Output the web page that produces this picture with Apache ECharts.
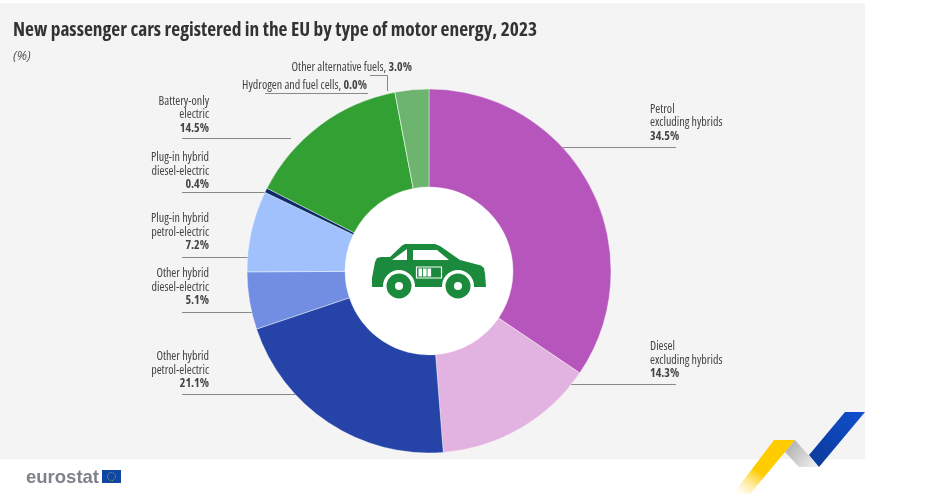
<!DOCTYPE html>
<html>
<head>
<meta charset="utf-8">
<style>html,body{margin:0;padding:0;background:#fff}#main{width:950px;height:497px}</style>
<script src="https://cdn.jsdelivr.net/npm/echarts@6/dist/echarts.min.js"></script>
</head>
<body>
<div id="main"></div>
<script>
var categories = ['Petrol\nexcluding hybrids', 'Diesel\nexcluding hybrids', 'Other hybrid\npetrol-electric',
    'Other hybrid\ndiesel-electric', 'Plug-in hybrid\npetrol-electric', 'Plug-in hybrid\ndiesel-electric',
    'Battery-only\nelectric', 'Hydrogen and fuel cells', 'Other alternative fuels'];
var shares = [34.5, 14.3, 21.1, 5.1, 7.2, 0.4, 14.5, 0.0, 3.0];
var colors = ['#b656bc', '#e2b2e0', '#2644a7', '#718ee2', '#a0c1fb', '#0e2a6d', '#33a033', '#33a033', '#6db56f'];

// label anchor and leader line for each slice
var labelPos = [[650, 102.5], [650, 340], [209, 350], [209, 267], [209, 212], [209, 151], [209, 94.5], [367, 79], [412, 61]];
var leaders = [
    [[676, 147.5], [561, 147.5]], [[676, 384.5], [561, 384.5]], [[182, 394.5], [296, 394.5]], [[182, 312.5], [252, 312.5]],
    [[182, 257.5], [248, 257.5]], [[182, 192.5], [266, 192.5]], [[182, 138.5], [291, 138.5]], [[265, 93.5], [368, 93.5]],
    [[370, 75.5], [387.5, 75.5], [387.5, 91]]
];

var font = '"Open Sans", sans-serif';
var chart = echarts.init(document.getElementById('main'));

var carBody = [[372, 287], [372, 278], [375, 262], [377, 258], [381, 257], [390, 257], [402, 245.5], [405, 244], [435, 244], [440, 246],
    [460, 260], [481, 265.5], [484, 268], [485, 274], [486, 287]];

var option = {
    animation: false,
    backgroundColor: '#fff',
    title: [
        {text: 'New passenger cars registered in the EU by type of motor energy, 2023', left: 13, top: 21, padding: 0,
            textStyle: {fontFamily: font, fontSize: 19.4, fontStyle: 'condensed', fontWeight: 'bold', color: '#333'}},
        {text: '(%)', left: 13, top: 50, padding: 0, textStyle: {fontFamily: font, fontSize: 13, fontStyle: 'italic', fontWeight: 'normal', color: '#555'}}
    ],
    series: [{
        type: 'pie',
        center: [429, 271],
        radius: [84, 182],
        startAngle: 90,
        clockwise: true,
        silent: true,
        z: 3,
        itemStyle: {borderColor: '#fff', borderWidth: 0.4},
        label: {
            show: true,
            position: 'outside',
            fontFamily: font,
            fontSize: 12,
            fontStyle: 'condensed',
            lineHeight: 13.5,
            color: '#444',
            formatter: function (p) {
                var sep = p.name.indexOf('\n') > -1 ? '\n' : ', ';
                return p.name + sep + '{b|' + p.value.toFixed(1) + '%}';
            },
            rich: {b: {fontFamily: font, fontSize: 12, fontStyle: 'condensed', fontWeight: 'bold', lineHeight: 13.5, color: '#444'}}
        },
        labelLine: {show: true, lineStyle: {color: '#888', width: 1}},
        labelLayout: function (p) {
            var i = p.dataIndex;
            return {
                x: labelPos[i][0],
                y: labelPos[i][1],
                align: i < 2 ? 'left' : 'right',
                verticalAlign: 'top',
                labelLinePoints: leaders[i]
            };
        },
        data: categories.map(function (name, i) {
            return {name: name, value: shares[i], itemStyle: {color: colors[i]}};
        })
    }],
    graphic: [
        {type: 'rect', z: -1, shape: {x: 0, y: 3, width: 865, height: 456}, style: {fill: '#f4f4f4'}},
        {type: 'circle', z: 1, shape: {cx: 429, cy: 271, r: 85}, style: {fill: '#fff'}},
        // car icon
        {type: 'polygon', z: 10, shape: {points: carBody}, style: {fill: '#1c8a3c'}},
        {type: 'polygon', z: 11, shape: {points: [[392, 260], [407, 249], [407, 260]]}, style: {fill: '#fff'}},
        {type: 'polygon', z: 11, shape: {points: [[413, 250], [437, 250], [449, 260], [413, 260]]}, style: {fill: '#fff'}},
        {type: 'rect', z: 11, shape: {x: 416.5, y: 267, width: 25, height: 11}, style: {fill: 'none', stroke: '#fff', lineWidth: 1.2}},
        {type: 'rect', z: 11, shape: {x: 418.5, y: 268.5, width: 3.6, height: 8}, style: {fill: '#fff'}},
        {type: 'rect', z: 11, shape: {x: 423, y: 268.5, width: 3.6, height: 8}, style: {fill: '#fff'}},
        {type: 'rect', z: 11, shape: {x: 427.5, y: 268.5, width: 3.6, height: 8}, style: {fill: '#fff'}},
        {type: 'circle', z: 11, shape: {cx: 399, cy: 286, r: 16}, style: {fill: '#fff'}},
        {type: 'circle', z: 11, shape: {cx: 458, cy: 286, r: 16}, style: {fill: '#fff'}},
        {type: 'circle', z: 12, shape: {cx: 399, cy: 286, r: 12.5}, style: {fill: '#1c8a3c'}},
        {type: 'circle', z: 12, shape: {cx: 458, cy: 286, r: 12.5}, style: {fill: '#1c8a3c'}},
        {type: 'circle', z: 13, shape: {cx: 399, cy: 286, r: 4}, style: {fill: '#fff'}},
        {type: 'circle', z: 13, shape: {cx: 458, cy: 286, r: 4}, style: {fill: '#fff'}},
        // ribbon
        {type: 'polygon', z: 5, shape: {points: [[774, 440], [795, 440], [785, 452], [750, 494], [733, 494]]},
            style: {fill: new echarts.graphic.LinearGradient(0.7, 0, 0.1, 1, [{offset: 0, color: '#ffcc00'}, {offset: 0.55, color: '#ffcc00'}, {offset: 1, color: 'rgba(255,225,130,0.05)'}])}},
        {type: 'polygon', z: 5, shape: {points: [[795, 440], [819, 467], [799, 467], [785, 452]]},
            style: {fill: new echarts.graphic.LinearGradient(0, 0, 1, 1, [{offset: 0, color: '#a8a8a8'}, {offset: 1, color: '#f4f4f4'}])}},
        {type: 'polygon', z: 5, shape: {points: [[845, 412], [865, 412], [819, 467], [809, 455]]},
            style: {fill: new echarts.graphic.LinearGradient(1, 0, 0, 1, [{offset: 0, color: '#0e4fd0'}, {offset: 1, color: '#0c3a96'}])}},
        // eurostat logo
        {type: 'text', z: 5, x: 26, y: 468, style: {text: 'eurostat', fontFamily: '"Liberation Sans", sans-serif', fontSize: 18.5, fontWeight: 'bold', fill: '#7f8289'}},
        {type: 'rect', z: 5, shape: {x: 102, y: 470, width: 19, height: 13}, style: {fill: '#0e47a1'}},
        {type: 'circle', z: 6, shape: {cx: 111.5, cy: 476.5, r: 4}, style: {fill: 'none', stroke: '#e8c840', lineWidth: 0.8, lineDash: [1, 1.2]}}
    ]
};
chart.setOption(option);
window.onresize = chart.resize;
</script>
</body>
</html>
